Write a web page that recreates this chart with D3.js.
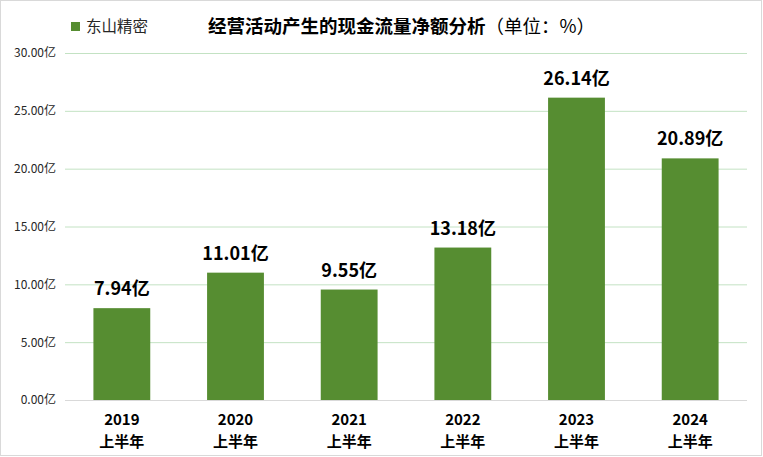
<!DOCTYPE html>
<html><head><meta charset="utf-8">
<script src="https://cdn.jsdelivr.net/npm/d3@7"></script>
<style>
body{margin:0;background:#fff;}
svg{display:block;font-family:"Microsoft YaHei","Noto Sans CJK SC",sans-serif;}
</style></head>
<body>
<svg id="chart" width="763" height="457"></svg>
<script>
const years = ["2019","2020","2021","2022","2023","2024"];
const periodLabel = "上半年";
const values = [7.94, 11.01, 9.55, 13.18, 26.14, 20.89];
const yTicks = [0, 5, 10, 15, 20, 25, 30];
const seriesName = "东山精密";
const title = "经营活动产生的现金流量净额分析";
const titleUnit = "（单位：%）";

const svg = d3.select("#chart");
const W = 763, H = 457;
const m = {left: 65, right: 16, top: 53, bottom: 57};

svg.append("rect").attr("x",0.5).attr("y",0.5).attr("width",W-2).attr("height",H-2)
  .attr("fill","#fff").attr("stroke","#d9d9d9");

const x = d3.scaleBand().domain(years).range([m.left, W - m.right]).paddingInner(0.5).paddingOuter(0.25);
const y = d3.scaleLinear().domain([0, 30]).range([H - m.bottom, m.top]);

// gridlines
const grid = svg.append("g").attr("transform",`translate(${m.left},0)`)
  .call(d3.axisLeft(y).tickValues(yTicks.filter(d=>d>0)).tickSize(-(W-m.right-m.left)).tickFormat(""));
grid.select(".domain").remove();
grid.selectAll("line").attr("stroke","#c3e2c3").attr("stroke-width",1);

// y labels
const yl = svg.append("g").attr("transform",`translate(${m.left},0)`)
  .call(d3.axisLeft(y).tickValues(yTicks).tickSize(0).tickPadding(9).tickFormat(d=>d3.format(".2f")(d)+"亿"));
yl.select(".domain").remove();
yl.selectAll("text").attr("font-size",12).attr("fill","#262626").attr("font-family","'Microsoft YaHei','Noto Sans CJK SC',sans-serif");

// bars
svg.append("g").selectAll("rect").data(values).join("rect")
  .attr("x",(d,i)=>x(years[i])).attr("width",x.bandwidth())
  .attr("y",d=>y(d)).attr("height",d=>y(0)-y(d)).attr("fill","#568d31");

// baseline
svg.append("line").attr("x1",m.left).attr("x2",W-m.right).attr("y1",y(0)+0.5).attr("y2",y(0)+0.5)
  .attr("stroke","#d9d9d9");

// value labels
svg.append("g").selectAll("text").data(values).join("text")
  .attr("x",(d,i)=>x(years[i])+x.bandwidth()/2).attr("y",d=>y(d)-13)
  .attr("text-anchor","middle").attr("font-size",18).attr("font-weight","bold").attr("fill","#000")
  .text(d=>d3.format(".2f")(d)+"亿");

// x labels (two lines)
svg.append("g").selectAll("text").data(years).join("text")
  .attr("x",d=>x(d)+x.bandwidth()/2).attr("y",424.5).attr("text-anchor","middle")
  .attr("font-size",15).attr("font-weight","bold").attr("fill","#000").text(d=>d);
svg.append("g").selectAll("text").data(years).join("text")
  .attr("x",d=>x(d)+x.bandwidth()/2).attr("y",446.5).attr("text-anchor","middle")
  .attr("font-size",15).attr("font-weight","bold").attr("fill","#000").text(periodLabel);

// legend
svg.append("rect").attr("x",71).attr("y",22).attr("width",9).attr("height",9).attr("fill","#568d31");
svg.append("text").attr("x",86).attr("y",32).attr("font-size",15.5).attr("fill","#262626").text(seriesName);

// title
const t = svg.append("text").attr("x",208).attr("y",33).attr("font-size",18.5).attr("fill","#000");
t.append("tspan").attr("font-weight","bold").text(title);
t.append("tspan").attr("font-weight","normal").text(titleUnit);
</script>
</body></html>
